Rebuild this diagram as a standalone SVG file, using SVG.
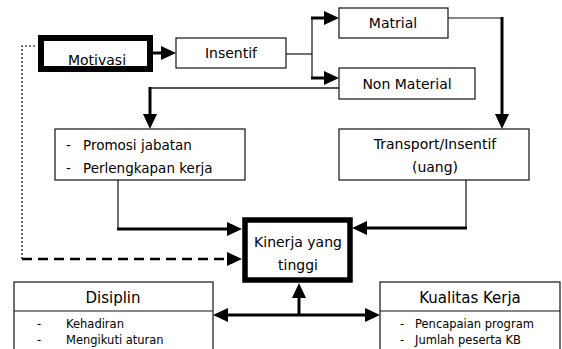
<svg xmlns="http://www.w3.org/2000/svg" width="562" height="349" viewBox="0 0 562 349">
<defs>
<style>
text{font-family:"DejaVu Sans","Liberation Sans",sans-serif;fill:#000;}
.box{fill:#fff;stroke:#111;stroke-width:1.2;}
.thickbox{fill:#fff;stroke:#000;}
.t14{font-size:14px;text-anchor:middle;}
.t13{font-size:13.5px;}
.t15{font-size:15px;text-anchor:middle;}
.t12{font-size:11.5px;}
.thin{fill:none;stroke:#111;stroke-width:1.2;}
.thick{fill:none;stroke:#000;stroke-width:3;}
.gray{fill:none;stroke:#555;stroke-width:1.8;}
</style>
<marker id="ah" markerUnits="userSpaceOnUse" markerWidth="15" markerHeight="14" refX="0" refY="7" orient="auto-start-reverse" viewBox="0 0 15 14">
<path d="M0,0 L15,7 L0,14 z" fill="#000"/>
</marker>
</defs>

<g id="connectors">
<line class="thick" x1="153" y1="53" x2="161" y2="53" marker-end="url(#ah)"/>
<polyline class="thin" points="286,54 312,54"/>
<line class="thin" x1="312" y1="17" x2="312" y2="79"/>
<line class="thick" x1="311" y1="18" x2="324" y2="18" marker-end="url(#ah)"/>
<line class="thick" x1="311" y1="78" x2="324" y2="78" marker-end="url(#ah)"/>
<polyline class="thin" points="448,18 502,18"/>
<line class="thick" x1="502" y1="17" x2="502" y2="114" marker-end="url(#ah)"/>
<polyline class="gray" points="339,88 150,88"/>
<line class="thick" x1="150" y1="87" x2="150" y2="114" marker-end="url(#ah)"/>
<polyline class="thin" points="118,180 118,229"/>
<line class="thick" x1="117" y1="229" x2="227" y2="229" marker-end="url(#ah)"/>
<polyline class="thin" points="466,180 466,228"/>
<line class="thick" x1="467" y1="228" x2="367" y2="228" marker-end="url(#ah)"/>
<polyline fill="none" stroke="#000" stroke-width="1.2" stroke-dasharray="2,2" points="35,46 22,46 22,259"/>
<line x1="22" y1="259" x2="227" y2="259" stroke="#000" stroke-width="2.5" stroke-dasharray="10,6" marker-end="url(#ah)"/>
<line class="thick" x1="228" y1="315" x2="365" y2="315" marker-start="url(#ah)" marker-end="url(#ah)"/>
<line class="thick" x1="299" y1="316" x2="299" y2="298" marker-end="url(#ah)"/>
</g>

<g id="motivasi">
<rect class="thickbox" x="41" y="38" width="109" height="31" stroke-width="6"/>
<text class="t14" x="97" y="65">Motivasi</text>
</g>

<g id="insentif">
<rect class="box" x="176" y="38" width="110" height="30"/>
<text class="t14" x="231" y="58">Insentif</text>
</g>

<g id="matrial">
<rect class="box" x="339" y="8" width="109" height="30"/>
<text class="t14" x="393" y="28">Matrial</text>
</g>

<g id="non-material">
<rect class="box" x="339" y="68" width="136" height="31"/>
<text class="t14" x="407" y="89">Non Material</text>
</g>

<g id="promosi">
<rect class="box" x="55" y="129" width="190" height="51"/>
<text class="t13" x="66" y="150">-</text>
<text class="t13" x="83" y="150">Promosi jabatan</text>
<text class="t13" x="66" y="173">-</text>
<text class="t13" x="83" y="173">Perlengkapan kerja</text>
</g>

<g id="transport">
<rect class="box" x="339" y="129" width="190" height="51"/>
<text class="t14" x="435" y="149">Transport/Insentif</text>
<text class="t14" x="435" y="172">(uang)</text>
</g>

<g id="kinerja">
<rect class="thickbox" x="245" y="220" width="105" height="60" stroke-width="5.5"/>
<text class="t14" x="298" y="247">Kinerja yang</text>
<text class="t14" x="298" y="270">tinggi</text>
</g>

<g id="disiplin">
<rect class="box" x="14" y="282" width="199" height="80"/>
<line class="thin" x1="14" y1="311" x2="213" y2="311"/>
<text class="t15" x="113" y="303">Disiplin</text>
<text class="t12" x="37" y="328">-</text>
<text class="t12" x="66" y="328">Kehadiran</text>
<text class="t12" x="37" y="344">-</text>
<text class="t12" x="66" y="344">Mengikuti aturan</text>
</g>

<g id="kualitas">
<rect class="box" x="380" y="282" width="180" height="80"/>
<line class="thin" x1="380" y1="311" x2="560" y2="311"/>
<text class="t15" x="470" y="303">Kualitas Kerja</text>
<text class="t12" x="400" y="328">-</text>
<text class="t12" x="415" y="328">Pencapaian program</text>
<text class="t12" x="400" y="344">-</text>
<text class="t12" x="415" y="344">Jumlah peserta KB</text>
</g>
</svg>
